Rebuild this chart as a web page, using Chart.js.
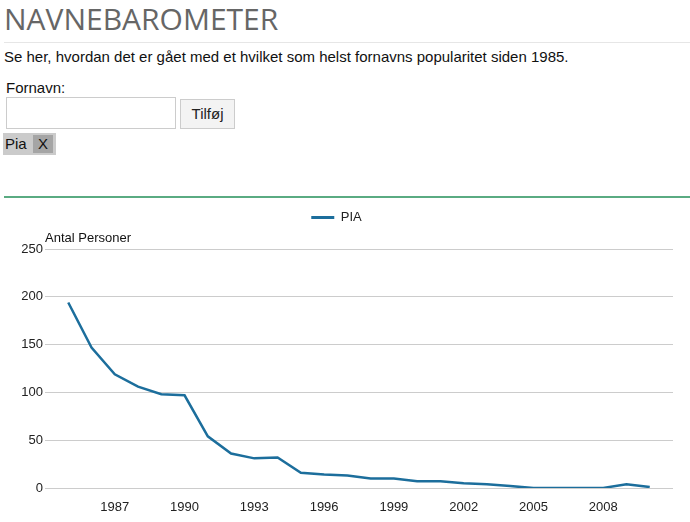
<!DOCTYPE html>
<html>
<head>
<meta charset="utf-8">
<script src="https://cdn.jsdelivr.net/npm/chart.js@4"></script>
<style>
  body { margin: 0; width: 690px; height: 522px; overflow: hidden; background: #fff; font-family: "Liberation Sans", Arial, sans-serif; color: #111; position: relative; }
  h1 { position: absolute; left: 4px; top: 0px; margin: 0; font-family: "Open Sans", sans-serif; font-weight: 400; font-size: 30px; line-height: 38px; color: #666; }
  .rule { position: absolute; left: 4px; right: 0; top: 42px; height: 1px; background: #e6e6e6; }
  .intro { position: absolute; left: 4px; top: 48px; font-size: 15px; line-height: 18px; margin: 0; }
  .lbl { position: absolute; left: 6px; top: 79px; font-size: 15px; line-height: 18px; }
  .inp { position: absolute; left: 6px; top: 97px; width: 168px; height: 30px; border: 1px solid #ccc; background: #fff; }
  .btn { position: absolute; left: 180px; top: 99px; width: 53px; height: 28px; border: 1px solid #ccc; background: #f3f3f3; font-size: 15px; line-height: 28px; text-align: center; color: #222; }
  .tag { position: absolute; left: 3px; top: 133px; width: 53px; height: 22px; background: #cbcbcb; }
  .tag span.n { position: absolute; left: 2px; top: 2px; font-size: 15px; line-height: 18px; }
  .tag span.x { position: absolute; left: 30px; top: 2px; width: 20px; height: 18px; background: #a5a5a5; font-size: 15px; line-height: 18px; text-align: center; }
  .green { position: absolute; left: 4px; right: 0; top: 196px; height: 2px; background: #5aab82; }
  .wrap { position: absolute; left: 0; top: 199px; width: 690px; height: 323px; }
</style>
</head>
<body>
<h1>NAVNEBAROMETER</h1>
<div class="rule"></div>
<p class="intro">Se her, hvordan det er gået med et hvilket som helst fornavns popularitet siden 1985.</p>
<div class="lbl">Fornavn:</div>
<div class="inp"></div>
<div class="btn">Tilføj</div>
<div class="tag"><span class="n">Pia</span><span class="x">X</span></div>
<div class="green"></div>
<div class="wrap"><canvas id="chart"></canvas></div>
<script>
'use strict';
const years = [1985, 1986, 1987, 1988, 1989, 1990, 1991, 1992, 1993, 1994, 1995, 1996, 1997,
  1998, 1999, 2000, 2001, 2002, 2003, 2004, 2005, 2006, 2007, 2008, 2009, 2010];
const piaCounts = [194, 147, 119, 106, 98, 97, 54, 36, 31, 32, 16, 14, 13,
  10, 10, 7, 7, 5, 4, 2, 0, 0, 0, 0, 4, 1];
const yTicks = [0, 50, 100, 150, 200, 250];
const xTickYears = [1987, 1990, 1993, 1996, 1999, 2002, 2005, 2008];

const points = [];
for (let i = 0; i < years.length; i++) {
  points.push({ x: years[i], y: piaCounts[i] });
}

const tickFont = { family: 'Liberation Sans, Arial, sans-serif', size: 13 };
const lineColor = '#1c6e9c';

let ctx = document.getElementById('chart').getContext('2d');
let chart = new Chart(ctx, {
  type: 'line',
  data: {
    datasets: [{
      label: 'PIA',
      data: points,
      borderColor: lineColor,
      backgroundColor: lineColor,
      borderWidth: 2.5,
      pointRadius: 0,
      tension: 0
    }]
  },
  options: {
    responsive: true,
    maintainAspectRatio: false,
    animation: false,
    layout: { padding: { left: 0, right: 17, top: 9, bottom: 0 } },
    plugins: {
      legend: {
        position: 'top',
        labels: {
          boxWidth: 23,
          boxHeight: 3,
          color: '#222',
          font: tickFont,
          padding: 3,
          // plain filled bar, no outline
          generateLabels: (c) => Chart.defaults.plugins.legend.labels.generateLabels(c)
            .map(item => Object.assign(item, { lineWidth: 0, fillStyle: lineColor }))
        }
      },
      title: {
        display: true,
        text: 'Antal Personer',
        align: 'start',
        fullSize: false,
        weight: 500,
        color: '#111',
        font: { family: 'Liberation Sans, Arial, sans-serif', size: 13, weight: 'normal', lineHeight: 1 },
        padding: { top: -2, bottom: 4 }
      },
      tooltip: { enabled: false }
    },
    scales: {
      x: {
        type: 'linear',
        min: 1984,
        max: 2011,
        afterBuildTicks: (axis) => { axis.ticks = xTickYears.map(v => ({ value: v })); },
        afterFit: (axis) => { axis.height = 34; },
        ticks: {
          color: '#222',
          font: tickFont,
          padding: 12,
          maxRotation: 0,
          callback: (v) => String(v)
        },
        grid: { display: false, drawTicks: false },
        border: { display: false }
      },
      y: {
        min: 0,
        max: 250,
        afterBuildTicks: (axis) => { axis.ticks = yTicks.map(v => ({ value: v })); },
        afterFit: (axis) => { axis.width = 45; },
        ticks: { color: '#222', font: tickFont, padding: 2 },
        grid: { color: '#cccccc', drawTicks: false },
        border: { display: false }
      }
    }
  }
});
</script>
</body>
</html>
